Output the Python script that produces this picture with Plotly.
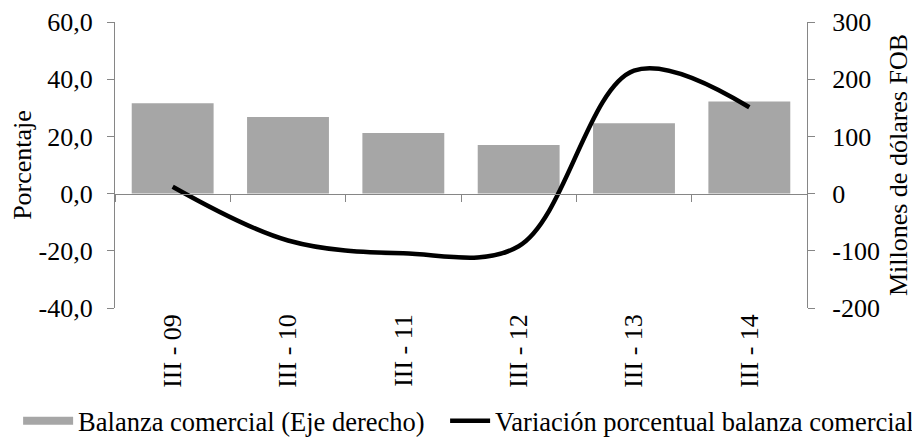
import plotly.graph_objects as go

categorias = ["III - 09", "III - 10", "III - 11", "III - 12", "III - 13", "III - 14"]
balanza = [158, 134, 106, 85, 123, 161]
variacion = [2.4, -16.4, -20.9, -18.4, 43.0, 30.2]

izq_vals = [-40, -20, 0, 20, 40, 60]
izq_text = ["-40,0", "-20,0", "0,0", "20,0", "40,0", "60,0"]
der_vals = [-200, -100, 0, 100, 200, 300]
der_text = ["-200", "-100", "0", "100", "200", "300"]

nombre_barras = "Balanza comercial (Eje derecho)"
nombre_linea = "Variación porcentual balanza comercial"

FONT = "Liberation Serif, Times New Roman, serif"
GRIS_EJE = "#868686"
GRIS_BARRA = "#A6A6A6"
FS = 26
FS_LEG = 26.5

fig = go.Figure()
fig.add_trace(go.Bar(
    x=categorias, y=balanza, name=nombre_barras, showlegend=False,
    marker=dict(color=GRIS_BARRA, line=dict(width=0)),
    xaxis="x", yaxis="y",
))
# legend swatch for the bars (wide flat rectangle as in the original)
fig.add_trace(go.Scatter(
    x=[None], y=[None], name=nombre_barras, mode="lines",
    line=dict(color=GRIS_BARRA, width=8), xaxis="x", yaxis="y", legend="legend",
))
fig.add_trace(go.Scatter(
    x=categorias, y=variacion, name=nombre_linea,
    mode="lines", line=dict(color="black", width=4.5, shape="spline", smoothing=1),
    xaxis="x", yaxis="y2", legend="legend2",
))
# invisible trace to attach the zero-line category axis
fig.add_trace(go.Scatter(
    x=categorias, y=balanza, mode="lines", opacity=0, showlegend=False,
    hoverinfo="skip", xaxis="x2", yaxis="y",
))

fig.update_layout(
    width=912, height=431,
    margin=dict(l=107, r=113, t=14, b=131, autoexpand=False),
    plot_bgcolor="white", paper_bgcolor="white",
    font=dict(family=FONT, size=FS, color="black"),
    bargap=0.29,
    showlegend=True,
    legend=dict(orientation="h", x=-0.140, xanchor="left", y=-0.395, yanchor="middle",
                font=dict(size=FS_LEG), itemwidth=50, bgcolor="rgba(0,0,0,0)"),
    legend2=dict(orientation="h", x=1.162, xanchor="right", y=-0.395, yanchor="middle",
                 font=dict(size=FS_LEG), itemwidth=40, bgcolor="rgba(0,0,0,0)"),
    xaxis=dict(
        type="category", showline=False, ticks="", tickangle=-90,
        showgrid=False, zeroline=False, tickfont=dict(size=FS),
        anchor="y",
    ),
    xaxis2=dict(
        type="category", overlaying="x", matches="x", anchor="free", position=0.4,
        showline=True, linecolor=GRIS_EJE, linewidth=1.3, ticks="outside",
        tickson="boundaries", ticklen=7, tickcolor=GRIS_EJE, tickwidth=1.3,
        showticklabels=False, showgrid=False, zeroline=False,
    ),
    yaxis=dict(
        side="right", range=[-200, 300], tickvals=der_vals, ticktext=der_text,
        showline=True, linecolor=GRIS_EJE, linewidth=1.3, ticks="outside", ticklen=7,
        tickcolor=GRIS_EJE, tickwidth=1.3, showgrid=False, zeroline=False,
        ticklabelstandoff=12,
        title=dict(text="Millones de dólares FOB", font=dict(size=FS), standoff=9),
    ),
    yaxis2=dict(
        side="left", overlaying="y", anchor="x", range=[-40, 60],
        tickvals=izq_vals, ticktext=izq_text,
        showline=True, linecolor=GRIS_EJE, linewidth=1.3, ticks="outside", ticklen=7,
        tickcolor=GRIS_EJE, tickwidth=1.3, showgrid=False, zeroline=False,
        ticklabelstandoff=9,
        title=dict(text="Porcentaje", font=dict(size=FS), standoff=0),
    ),
)

fig.write_html("out.html")
